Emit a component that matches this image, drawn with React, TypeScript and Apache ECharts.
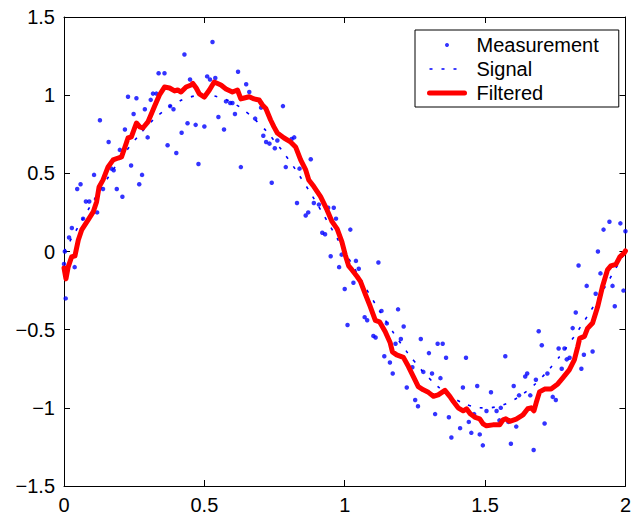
import React, { useEffect, useRef } from "react";
import * as echarts from "echarts";

// Measurement (noisy samples)
const measX = [
  0.000, 0.003, 0.006, 0.018, 0.028, 0.038, 0.047, 0.059, 0.068, 0.078,
  0.090, 0.107, 0.118, 0.128, 0.139, 0.159, 0.169, 0.177, 0.188, 0.199,
  0.208, 0.217, 0.228, 0.239, 0.248, 0.258, 0.268, 0.278, 0.288, 0.298,
  0.309, 0.317, 0.329, 0.337, 0.358, 0.369, 0.378, 0.390, 0.400, 0.419,
  0.429, 0.440, 0.449, 0.469, 0.479, 0.500, 0.510, 0.520, 0.529, 0.539,
  0.550, 0.570, 0.577, 0.592, 0.600, 0.609, 0.620, 0.630, 0.649, 0.660,
  0.681, 0.702, 0.710, 0.720, 0.732, 0.740, 0.751, 0.760, 0.780, 0.790,
  0.811, 0.820, 0.830, 0.839, 0.861, 0.870, 0.879, 0.890, 0.908, 0.920,
  0.930, 0.941, 0.950, 0.961, 0.969, 0.980, 0.989, 1.000, 1.010, 1.020,
  1.031, 1.040, 1.050, 1.071, 1.080, 1.102, 1.110, 1.120, 1.131, 1.141,
  1.150, 1.161, 1.171, 1.181, 1.190, 1.200, 1.210, 1.221, 1.241, 1.251,
  1.261, 1.271, 1.280, 1.300, 1.311, 1.322, 1.331, 1.341, 1.349, 1.361,
  1.371, 1.380, 1.411, 1.421, 1.432, 1.442, 1.451, 1.461, 1.472, 1.481,
  1.492, 1.505, 1.521, 1.541, 1.551, 1.556, 1.572, 1.583, 1.592, 1.602,
  1.611, 1.621, 1.643, 1.650, 1.661, 1.673, 1.681, 1.691, 1.702, 1.712,
  1.722, 1.741, 1.752, 1.762, 1.773, 1.783, 1.791, 1.801, 1.812, 1.823,
  1.833, 1.843, 1.852, 1.862, 1.883, 1.894, 1.902, 1.911, 1.922, 1.943,
  1.954, 1.962, 1.982, 1.993, 2.000,
];
const measY = [
  -0.08, 0.00, -0.30, 0.09, 0.15, -0.10, 0.40, 0.43, 0.21, 0.32,
  0.32, 0.49, 0.25, 0.84, 0.40, 0.70, 0.53, 0.52, 0.40, 0.65,
  0.35, 0.78, 0.99, 0.55, 0.88, 0.98, 0.43, 0.49, 0.91, 0.73,
  0.97, 1.01, 1.01, 1.14, 1.14, 0.68, 0.93, 0.91, 0.63, 0.76,
  1.26, 0.82, 1.10, 0.81, 0.56, 0.80, 1.12, 1.10, 1.34, 1.11,
  0.86, 0.78, 0.96, 0.95, 0.95, 0.88, 1.15, 0.54, 1.07, 1.02,
  0.85, 0.92, 0.74, 0.70, 0.69, 0.44, 0.66, 0.71, 0.93, 0.54,
  0.72, 0.73, 0.31, 0.53, 0.23, 0.25, 0.59, 0.31, 0.30, 0.12,
  0.11, 0.28, -0.03, 0.28, 0.21, -0.10, -0.02, -0.24, -0.47, 0.14,
  -0.20, -0.06, -0.11, -0.42, -0.44, -0.54, -0.55, -0.07, -0.38, -0.67,
  -0.46, -0.71, -0.78, -0.59, -0.37, -0.56, -0.48, -0.87, -0.74, -0.95,
  -0.99, -0.56, -0.77, -0.65, -0.78, -1.04, -0.59, -0.81, -0.59, -0.68,
  -1.06, -1.19, -1.13, -0.87, -0.68, -1.09, -1.16, -1.04, -0.86, -1.17,
  -1.24, -1.02, -0.90, -1.02, -1.08, -1.00, -0.67, -1.09, -1.23, -0.86,
  -1.12, -0.92, -0.80, -0.78, -0.92, -1.27, -0.82, -0.51, -0.60, -1.10,
  -0.78, -0.93, -0.95, -0.62, -0.75, -0.62, -0.69, -0.68, -0.49, -0.39,
  -0.09, -0.75, -0.66, -0.22, -0.64, -0.27, 0.00, -0.14, 0.14, 0.19,
  -0.22, -0.35, 0.18, -0.25, 0.13,
];

// Signal (true underlying curve)
const sigX = [
  0.00, 0.05, 0.10, 0.15, 0.20, 0.25, 0.30, 0.35, 0.40, 0.45,
  0.50, 0.55, 0.60, 0.65, 0.70, 0.75, 0.80, 0.85, 0.90, 0.95,
  1.00, 1.05, 1.10, 1.15, 1.20, 1.25, 1.30, 1.35, 1.40, 1.45,
  1.50, 1.55, 1.60, 1.65, 1.70, 1.75, 1.80, 1.85, 1.90, 1.95, 2.00,
];
const sigY = [
  0.000, 0.156, 0.309, 0.454, 0.588, 0.707, 0.809, 0.891, 0.951, 0.988,
  1.000, 0.988, 0.951, 0.891, 0.809, 0.707, 0.588, 0.454, 0.309, 0.156,
  0.000, -0.156, -0.309, -0.454, -0.588, -0.707, -0.809, -0.891, -0.951, -0.988,
  -1.000, -0.988, -0.951, -0.891, -0.809, -0.707, -0.588, -0.454, -0.309, -0.156, 0.000,
];

// Filtered estimate
const filtX = [
  0.000, 0.007, 0.015, 0.027, 0.039, 0.051, 0.063, 0.086, 0.104, 0.116,
  0.125, 0.139, 0.157, 0.175, 0.193, 0.205, 0.216, 0.228, 0.240, 0.258,
  0.270, 0.281, 0.299, 0.317, 0.323, 0.340, 0.358, 0.376, 0.394, 0.405,
  0.417, 0.435, 0.453, 0.459, 0.471, 0.482, 0.500, 0.518, 0.535, 0.559,
  0.577, 0.600, 0.618, 0.630, 0.642, 0.660, 0.677, 0.695, 0.707, 0.719,
  0.736, 0.748, 0.760, 0.784, 0.807, 0.825, 0.843, 0.861, 0.872, 0.890,
  0.914, 0.937, 0.955, 0.973, 0.990, 1.002, 1.014, 1.026, 1.044, 1.056,
  1.073, 1.091, 1.109, 1.124, 1.144, 1.162, 1.170, 1.185, 1.209, 1.227,
  1.245, 1.262, 1.280, 1.298, 1.316, 1.333, 1.357, 1.375, 1.387, 1.404,
  1.422, 1.434, 1.447, 1.465, 1.481, 1.493, 1.505, 1.528, 1.552, 1.564,
  1.574, 1.588, 1.611, 1.635, 1.652, 1.664, 1.674, 1.682, 1.694, 1.712,
  1.735, 1.759, 1.777, 1.800, 1.818, 1.830, 1.837, 1.854, 1.865, 1.883,
  1.901, 1.918, 1.936, 1.948, 1.966, 1.980, 1.995, 2.000,
];
const filtY = [
  -0.105, -0.175, -0.098, -0.035, -0.028, 0.074, 0.138, 0.202, 0.253, 0.317,
  0.413, 0.458, 0.541, 0.586, 0.598, 0.605, 0.662, 0.726, 0.733, 0.822,
  0.797, 0.790, 0.829, 0.905, 0.931, 1.001, 1.052, 1.046, 1.027, 1.033,
  1.020, 1.052, 1.065, 1.075, 1.046, 1.008, 0.988, 1.033, 1.084, 1.065,
  1.040, 1.020, 1.033, 0.976, 0.982, 0.990, 0.976, 0.969, 0.937, 0.915,
  0.841, 0.797, 0.758, 0.726, 0.701, 0.669, 0.586, 0.522, 0.458, 0.415,
  0.351, 0.266, 0.191, 0.145, 0.061, -0.022, -0.092, -0.118, -0.160, -0.191,
  -0.271, -0.352, -0.441, -0.450, -0.512, -0.584, -0.642, -0.661, -0.677, -0.736,
  -0.802, -0.864, -0.885, -0.901, -0.926, -0.917, -0.888, -0.928, -0.960, -1.000,
  -1.019, -1.006, -1.038, -1.061, -1.070, -1.102, -1.115, -1.109, -1.109, -1.077,
  -1.070, -1.086, -1.072, -1.045, -1.006, -1.000, -1.019, -0.968, -0.898, -0.880,
  -0.879, -0.847, -0.808, -0.757, -0.693, -0.610, -0.556, -0.543, -0.492, -0.457,
  -0.354, -0.226, -0.118, -0.092, -0.082, -0.035, -0.011, 0.004,
];

const seriesNames = ["Measurement", "Signal", "Filtered"];

const zip = (xs: number[], ys: number[]) => {
  const n = Math.min(xs.length, ys.length);
  const out: number[][] = [];
  for (let i = 0; i < n; i++) out.push([xs[i], ys[i]]);
  return out;
};

const FONT = "'Liberation Sans', Arial, Helvetica, sans-serif";
const BLUE = "#0000ff";
const RED = "#ff0000";

const fmt = (v: number) => (v < 0 ? "\u2212" + String(Math.abs(v)) : String(v));

export default function App() {
  const ref = useRef<HTMLDivElement>(null);

  useEffect(() => {
    if (!ref.current) return;
    const chart = echarts.init(ref.current, undefined, { renderer: "svg" });

    const axisCommon = {
      type: "value" as const,
      splitLine: { show: false },
      axisLine: { show: true, onZero: false, lineStyle: { color: "#000", width: 1 } },
      axisTick: { show: true, inside: true, length: 6, lineStyle: { color: "#000", width: 1 } },
    };

    chart.setOption({
      animation: false,
      backgroundColor: "#fff",
      textStyle: { fontFamily: FONT },
      grid: { left: 64, right: 6, top: 17, bottom: 32, containLabel: false },
      legend: {
        show: true,
        orient: "vertical",
        left: 415,
        top: 30,
        padding: [5, 20, 4, 12],
        itemGap: 4,
        itemWidth: 35,
        itemHeight: 4,
        borderColor: "#000",
        borderWidth: 1,
        borderRadius: 0,
        backgroundColor: "#fff",
        selectedMode: false,
        textStyle: {
          fontFamily: FONT,
          fontSize: 20,
          color: "#000",
          lineHeight: 20,
          padding: [0, 0, 0, 7],
        },
        data: [
          { name: seriesNames[0], icon: "circle", itemStyle: { color: BLUE } },
          {
            name: seriesNames[1],
            itemStyle: { opacity: 0 },
            lineStyle: { width: 1.6, color: BLUE, type: [3, 9] },
          },
          {
            name: seriesNames[2],
            itemStyle: { opacity: 0 },
            lineStyle: { width: 5, color: RED },
          },
        ],
      },
      xAxis: [
        {
          ...axisCommon,
          min: 0,
          max: 2,
          interval: 0.5,
          position: "bottom",
          axisLabel: {
            show: true,
            margin: 9,
            color: "#000",
            fontSize: 20,
            fontFamily: FONT,
            formatter: fmt,
          },
        },
        {
          ...axisCommon,
          min: 0,
          max: 2,
          interval: 0.5,
          position: "top",
          axisLabel: { show: false },
        },
      ],
      yAxis: [
        {
          ...axisCommon,
          min: -1.5,
          max: 1.5,
          interval: 0.5,
          position: "left",
          axisLabel: {
            show: true,
            margin: 9,
            color: "#000",
            fontSize: 20,
            fontFamily: FONT,
            formatter: fmt,
          },
        },
        {
          ...axisCommon,
          min: -1.5,
          max: 1.5,
          interval: 0.5,
          position: "right",
          axisLabel: { show: false },
        },
      ],
      series: [
        {
          name: seriesNames[0],
          type: "scatter",
          xAxisIndex: 0,
          yAxisIndex: 0,
          symbol: "circle",
          symbolSize: 4.5,
          itemStyle: { color: BLUE },
          data: zip(measX, measY),
          z: 2,
        },
        {
          name: seriesNames[1],
          type: "line",
          xAxisIndex: 0,
          yAxisIndex: 0,
          symbol: "none",
          showSymbol: false,
          smooth: true,
          lineStyle: { color: BLUE, width: 1.6, type: [3, 9] },
          itemStyle: { color: BLUE },
          data: zip(sigX, sigY),
          z: 3,
        },
        {
          name: seriesNames[2],
          type: "line",
          xAxisIndex: 0,
          yAxisIndex: 0,
          symbol: "none",
          showSymbol: false,
          lineStyle: { color: RED, width: 5, join: "round", cap: "round" },
          itemStyle: { color: RED },
          data: zip(filtX, filtY),
          z: 4,
        },
      ],
    });

    return () => chart.dispose();
  }, []);

  return (
    <div
      ref={ref}
      style={{ position: "fixed", left: 0, top: 0, width: 634, height: 518, background: "#fff" }}
    />
  );
}
